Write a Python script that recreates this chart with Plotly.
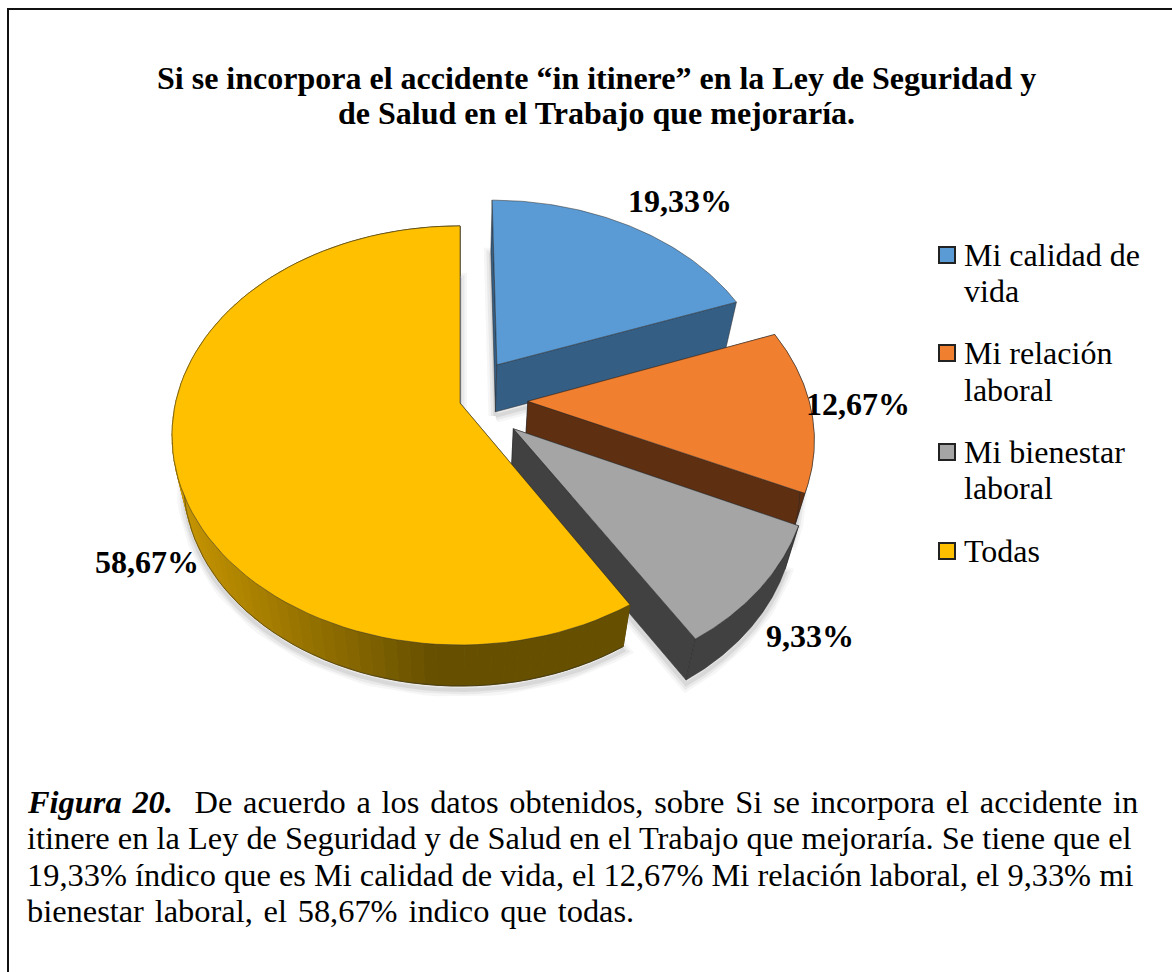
import math
import plotly.graph_objects as go

# ---- data ----
categories = [["Mi calidad de", "vida"], ["Mi relación", "laboral"], ["Mi bienestar", "laboral"], ["Todas"]]
values = [19.33, 12.67, 9.33, 58.67]
title_lines = ["Si se incorpora el accidente “in itinere” en la Ley de Seguridad y",
               "de Salud en el Trabajo que mejoraría."]
caption_lines = [
    "<b><i>Figura 20.</i></b>  De acuerdo a los datos obtenidos, sobre Si se incorpora el accidente in",
    "itinere en la Ley de Seguridad y de Salud en el Trabajo que mejoraría. Se tiene que el",
    "19,33% índico que es Mi calidad de vida, el 12,67% Mi relación laboral, el 9,33% mi",
    "bienestar laboral, el 58,67% indico que todas.",
]

# ---- style ----
top_colors = ["#5B9BD5", "#F07F30", "#A5A5A5", "#FFC000"]
side_colors = ["#355E85", "#5F2F12", "#414141", "#665000"]
explode = [0.234, 0.234, 0.234, 0.0]
nudge_u = [0.0, 0.005, 0.01, 0.0]
nudge_v = [0.0, 0.018, 0.033, 0.0]
radius = [0.98, 0.99, 1.0, 1.0]
label_pos = [(680, 201), (858, 404), (810, 636), (147, 562)]
legend_rows = [(255, 291), (353, 390), (452, 488), (551,)]
caption_extra = [1, 0, 0, 1]
W, H = 1172, 972
CX, CY, A, B, K = 460, 403, 284.5, 204.5, 0.155
FONT = "Liberation Serif"
EDGE = "rgba(40,40,40,0.5)"


def project(u, v):
    w = 1 + K * v
    return CX + A * u / w, CY - B * v / w


def drop(p):
    x, y = p
    return CX + (x - CX) * 0.96, y + 47 - 0.0214 * (y - 365)


def arc(a0, a1, du, dv, r, n=90):
    pts = []
    for i in range(n + 1):
        t = math.radians(a0 + (a1 - a0) * i / n)
        pts.append(project(du + r * math.sin(t), dv + r * math.cos(t)))
    return pts


fig = go.Figure()


def poly(pts, fill, line=EDGE, lw=1):
    pts = list(pts) + [pts[0]]
    fig.add_trace(go.Scatter(x=[p[0] for p in pts], y=[p[1] for p in pts], mode="lines",
                             fill="toself", fillcolor=fill, line=dict(color=line, width=lw),
                             hoverinfo="skip", showlegend=False))


def mix(c0, c1, t):
    a = [int(c0[i:i + 2], 16) for i in (1, 3, 5)]
    b = [int(c1[i:i + 2], 16) for i in (1, 3, 5)]
    return "#%02x%02x%02x" % tuple(round(a[i] + (b[i] - a[i]) * t) for i in range(3))


start = 0.0
total = sum(values)
for i, val in enumerate(values):
    span = val / total * 360
    mid = math.radians(start + span / 2)
    du = explode[i] * math.sin(mid) + nudge_u[i]
    dv = explode[i] * math.cos(mid) + nudge_v[i]
    apex = project(du, dv)
    rim = arc(start, start + span, du, dv, radius[i])
    low = [drop(p) for p in rim]
    # soft shadow along the lower silhouette
    body = [drop(apex)] + low + [drop(apex)]
    sx = [p[0] for p in body]
    sy = [p[1] + 4 for p in body]
    for width, alpha in ((14, 0.035), (9, 0.05), (4, 0.07)):
        fig.add_trace(go.Scatter(x=sx, y=sy, mode="lines", hoverinfo="skip", showlegend=False,
                                 line=dict(color=f"rgba(0,0,0,{alpha})", width=width)))
    # radial walls
    poly([apex, rim[0], low[0], drop(apex)], side_colors[i])
    poly([apex, rim[-1], low[-1], drop(apex)], side_colors[i])
    # outer wall
    if i == 3:
        for j in range(len(rim) - 1):
            t = min(1, max(0, (rim[j][0] - 180) / 260))
            col = mix("#C59400", side_colors[i], t)
            poly([rim[j], rim[j + 1], low[j + 1], low[j]], col, line=col, lw=1)
        fig.add_trace(go.Scatter(x=[p[0] for p in low], y=[p[1] for p in low], mode="lines",
                                 line=dict(color=EDGE, width=1),
                                 hoverinfo="skip", showlegend=False))
    elif i > 0:
        poly(rim + low[::-1], side_colors[i])
    # top face
    poly([apex] + rim, top_colors[i])
    start += span

# legend keys
annotations = []
for lines, col, rows in zip(categories, top_colors, legend_rows):
    fig.add_trace(go.Scatter(x=[947], y=[rows[0]], mode="markers", name=" ".join(lines),
                             hoverinfo="name", showlegend=False,
                             marker=dict(symbol="square", size=16, color=col,
                                         line=dict(color="#222222", width=2))))
    for line, y in zip(lines, rows):
        annotations.append(dict(x=962, y=y, xref="x", yref="y", showarrow=False, xanchor="left",
                                text=line, font=dict(family=FONT, size=32, color="#000000")))

for val, (x, y) in zip(values, label_pos):
    annotations.append(dict(x=x, y=y, xref="x", yref="y", showarrow=False,
                            text="<b>%s%%</b>" % f"{val:.2f}".replace(".", ","),
                            font=dict(family=FONT, size=32, color="#000000")))
for k, line in enumerate(title_lines):
    annotations.append(dict(x=596, y=78 + 35 * k, xref="x", yref="y", showarrow=False,
                            text=f"<b>{line}</b>", font=dict(family=FONT, size=32, color="#000000")))
for k, line in enumerate(caption_lines):
    spaced = line.replace(" ", " " + "\u200a" * caption_extra[k])
    annotations.append(dict(x=25, y=802 + 36.4 * k, xref="x", yref="y", showarrow=False, xanchor="left",
                            text=spaced, font=dict(family=FONT, size=32.4, color="#000000")))

fig.update_layout(
    width=W, height=H, margin=dict(l=0, r=0, t=0, b=0),
    paper_bgcolor="white", plot_bgcolor="white", showlegend=False,
    xaxis=dict(range=[0, W], visible=False, fixedrange=True),
    yaxis=dict(range=[H, 0], visible=False, fixedrange=True),
    annotations=annotations,
    shapes=[dict(type="rect", xref="x", yref="y", x0=8, y0=9, x1=W + 40, y1=H + 40,
                 line=dict(color="#111111", width=2), fillcolor="rgba(0,0,0,0)", layer="below")],
)
fig.write_html("out.html", config={"displayModeBar": False},
               post_script="document.body.style.margin='0';document.body.style.overflow='hidden';")
